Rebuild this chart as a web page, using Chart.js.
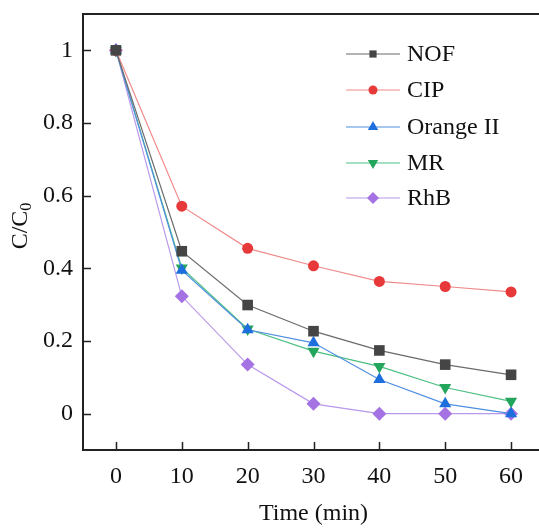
<!DOCTYPE html>
<html>
<head>
<meta charset="utf-8">
<script src="https://cdn.jsdelivr.net/npm/chart.js@4.4.0/dist/chart.umd.min.js"></script>
<style>
  html, body { margin: 0; padding: 0; background: #fff; overflow: hidden; }
  #wrap { width: 560px; height: 528px; }
</style>
</head>
<body>
<div id="wrap"><canvas id="chart" width="560" height="528"></canvas></div>
<script>
// dati
const times = [0, 10, 20, 30, 40, 50, 60];
const seriesNames = ["NOF", "CIP", "Orange II", "MR", "RhB"];
const nofValues = [1, 0.447, 0.299, 0.227, 0.174, 0.135, 0.107];
const cipValues = [1, 0.571, 0.455, 0.407, 0.364, 0.350, 0.335];
const orangeValues = [1, 0.395, 0.231, 0.195, 0.094, 0.027, 0.0];
const mrValues = [1, 0.401, 0.233, 0.172, 0.130, 0.072, 0.034];
const rhbValues = [1, 0.323, 0.135, 0.027, 0.0, 0.0, 0.0];
const yTicks = [0, 0.2, 0.4, 0.6, 0.8, 1];
const xTicks = [0, 10, 20, 30, 40, 50, 60];

const FONT = '"Liberation Serif", "Times New Roman", serif';

// r = raggio nel grafico, lr = raggio in legenda
const styles = [
  { line: "#6a6a6a", fill: "#454545", shape: "rect", rot: 0, r: 7.5, lr: 5 },
  { line: "#f08a8a", fill: "#e8393a", shape: "circle", rot: 0, r: 5.5, lr: 4.5 },
  { line: "#4f8fe0", fill: "#1c6fdc", shape: "triangle", rot: 0, r: 7, lr: 6 },
  { line: "#4cbf83", fill: "#23a55c", shape: "triangle", rot: 180, r: 7, lr: 6 },
  { line: "#b898ea", fill: "#a472e2", shape: "rectRot", rot: 0, r: 7, lr: 6 }
];
const allValues = [nofValues, cipValues, orangeValues, mrValues, rhbValues];

const datasets = allValues.map((vals, i) => ({
  label: seriesNames[i],
  data: times.map((t, j) => ({ x: t, y: vals[j] })),
  borderColor: styles[i].line,
  borderWidth: 1.2,
  backgroundColor: styles[i].fill,
  pointBackgroundColor: styles[i].fill,
  pointBorderColor: styles[i].fill,
  pointBorderWidth: 0,
  pointStyle: styles[i].shape,
  pointRotation: styles[i].rot,
  pointRadius: styles[i].r,
  pointHoverRadius: styles[i].r,
  tension: 0,
  fill: false
}));

function marker(ctx, s, x, y) {
  ctx.save();
  ctx.fillStyle = s.fill;
  ctx.translate(x, y);
  ctx.rotate(s.rot * Math.PI / 180);
  const r = s.lr;
  ctx.beginPath();
  if (s.shape === "rect") {
    const h = r * 0.72;
    ctx.rect(-h, -h, 2 * h, 2 * h);
  } else if (s.shape === "circle") {
    ctx.arc(0, 0, r, 0, Math.PI * 2);
  } else if (s.shape === "triangle") {
    ctx.moveTo(0, -r);
    ctx.lineTo(r * 0.866, r * 0.5);
    ctx.lineTo(-r * 0.866, r * 0.5);
    ctx.closePath();
  } else {
    ctx.moveTo(0, -r);
    ctx.lineTo(r, 0);
    ctx.lineTo(0, r);
    ctx.lineTo(-r, 0);
    ctx.closePath();
  }
  ctx.fill();
  ctx.restore();
}

const framePlugin = {
  id: "frame",
  afterDraw(chart) {
    const ctx = chart.ctx;
    const a = chart.chartArea;
    const xs = chart.scales.x, ys = chart.scales.y;
    ctx.save();
    ctx.strokeStyle = "#222";
    ctx.lineWidth = 2;
    ctx.beginPath();
    ctx.moveTo(a.right + 10, a.top);
    ctx.lineTo(a.left, a.top);
    ctx.lineTo(a.left, a.bottom);
    ctx.lineTo(a.right + 10, a.bottom);
    ctx.stroke();
    // tacche verso l'interno
    ctx.lineWidth = 1.5;
    ctx.beginPath();
    yTicks.forEach(v => {
      const y = Math.round(ys.getPixelForValue(v)) + 0.5;
      ctx.moveTo(a.left, y);
      ctx.lineTo(a.left + 8, y);
    });
    xTicks.forEach(v => {
      const x = Math.round(xs.getPixelForValue(v)) + 0.5;
      ctx.moveTo(x, a.bottom);
      ctx.lineTo(x, a.bottom - 8);
    });
    ctx.stroke();

    // titolo asse y con pedice
    ctx.fillStyle = "#111";
    ctx.translate(21, (a.top + a.bottom) / 2 - 6);
    ctx.rotate(-Math.PI / 2);
    ctx.font = "24px " + FONT;
    ctx.textBaseline = "middle";
    const main = "C/C";
    const w1 = ctx.measureText(main).width;
    ctx.font = "16px " + FONT;
    const w2 = ctx.measureText("0").width;
    const start = -(w1 + w2) / 2;
    ctx.font = "24px " + FONT;
    ctx.textAlign = "left";
    ctx.fillText(main, start, 0);
    ctx.font = "16px " + FONT;
    ctx.fillText("0", start + w1, 6);
    ctx.restore();

    // legenda
    ctx.save();
    ctx.font = "24px " + FONT;
    ctx.textBaseline = "middle";
    ctx.textAlign = "left";
    const rows = [54, 90, 127, 163, 198];
    seriesNames.forEach((name, i) => {
      const y = rows[i];
      ctx.strokeStyle = styles[i].line;
      ctx.lineWidth = 1.2;
      ctx.beginPath();
      ctx.moveTo(346, y);
      ctx.lineTo(400, y);
      ctx.stroke();
      marker(ctx, styles[i], 373, y);
      ctx.fillStyle = "#111";
      ctx.fillText(name, 407, y + 1);
    });
    ctx.restore();
  }
};

new Chart(document.getElementById("chart"), {
  type: "line",
  data: { datasets: datasets },
  options: {
    responsive: false,
    animation: false,
    layout: { padding: { top: 14, right: 16, left: 0, bottom: 0 } },
    plugins: { legend: { display: false }, tooltip: { enabled: false } },
    scales: {
      x: {
        type: "linear",
        min: -5,
        max: 65,
        afterBuildTicks: s => { s.ticks = xTicks.map(v => ({ value: v })); },
        afterFit: s => { s.height = 78; s.paddingLeft = 0; s.paddingRight = 0; },
        grid: { display: false, drawTicks: false },
        border: { display: false },
        ticks: {
          color: "#111",
          font: { family: FONT, size: 24 },
          padding: 12,
          maxRotation: 0
        },
        title: {
          display: true,
          text: "Time (min)",
          color: "#111",
          font: { family: FONT, size: 24 },
          padding: { top: 2, bottom: 0 }
        }
      },
      y: {
        min: -0.1,
        max: 1.1,
        afterBuildTicks: s => { s.ticks = yTicks.map(v => ({ value: v })); },
        afterFit: s => { s.width = 83; s.paddingTop = 0; s.paddingBottom = 0; },
        grid: { display: false, drawTicks: false },
        border: { display: false },
        ticks: {
          color: "#111",
          font: { family: FONT, size: 24 },
          padding: 10,
          callback: v => (v === 0 ? "0" : v === 1 ? "1" : v.toFixed(1))
        }
      }
    }
  },
  plugins: [framePlugin]
});
</script>
</body>
</html>
